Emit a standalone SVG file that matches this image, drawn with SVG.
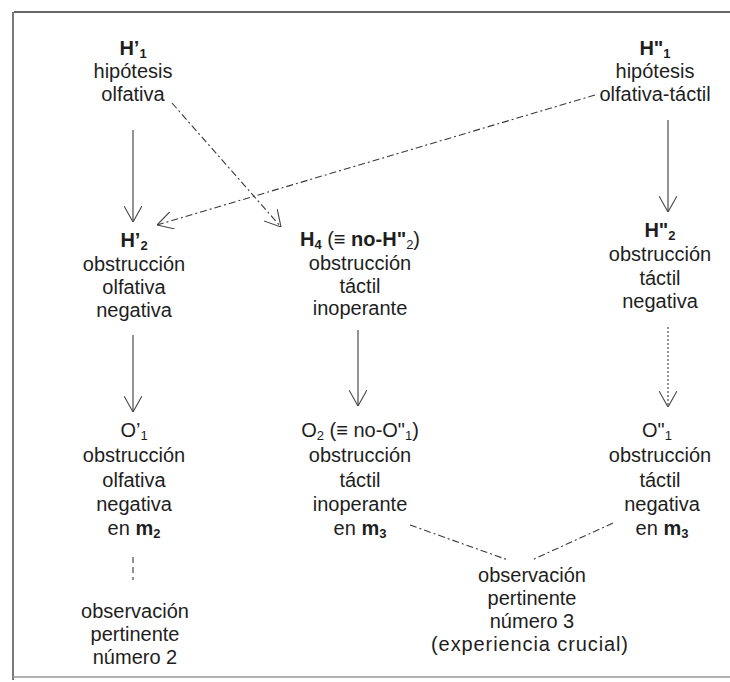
<svg xmlns="http://www.w3.org/2000/svg" width="730" height="682" viewBox="0 0 730 682">
<defs>
<style>
.t{font-family:"Liberation Sans",Arial,sans-serif;font-size:20px;fill:#1e1e1e;text-anchor:middle}
.b{font-weight:bold}
.s{font-size:13px}
.frame{stroke:#333;stroke-width:1.3;fill:none}
.c{stroke:#3a3a3a;stroke-width:1.1;fill:none}
.dash{stroke-dasharray:7 3 2 3}
.dot{stroke-dasharray:2 2}
.ln{stroke-dasharray:6 4}
</style>
<marker id="arr" viewBox="0 0 16 18" refX="16" refY="9" markerWidth="16" markerHeight="18" markerUnits="userSpaceOnUse" orient="auto">
<path d="M0,0 L16,9 L0,18" fill="none" stroke="#444" stroke-width="1.1"/>
</marker>
</defs>
<rect width="730" height="682" fill="#ffffff"/>
<g id="frame">
<path class="frame" d="M730,12 H14 M13,12 V680"/>
<path d="M13,677 H730" stroke="#999" stroke-width="1.3" fill="none"/>
</g>
<g id="connectors">
<path class="c" d="M133,130 V222" marker-end="url(#arr)"/>
<path class="c dash" d="M172,103 L281,227" marker-end="url(#arr)"/>
<path class="c dash" d="M595,95 L157,225" marker-end="url(#arr)"/>
<path class="c" d="M668,120 V212" marker-end="url(#arr)"/>
<path class="c" d="M133,335 V412" marker-end="url(#arr)"/>
<path class="c" d="M358,330 V406" marker-end="url(#arr)"/>
<path class="c dot" d="M668,327 V407" marker-end="url(#arr)"/>
<path class="c ln" d="M133,557 V580"/>
<path class="c dash" d="M410,525 L508,560"/>
<path class="c dash" d="M613,523 L532,560"/>
</g>
<g id="H1p">
<text class="t" x="133" y="55"><tspan class="b">H’</tspan><tspan class="b s" dy="3">1</tspan></text>
<text class="t" x="133" y="78">hipótesis</text>
<text class="t" x="133" y="101">olfativa</text>
</g>
<g id="H1pp">
<text class="t" x="655" y="55"><tspan class="b">H"</tspan><tspan class="b s" dy="3">1</tspan></text>
<text class="t" x="655" y="78">hipótesis</text>
<text class="t" x="655" y="101">olfativa-táctil</text>
</g>
<g id="H2p">
<text class="t" x="134" y="247"><tspan class="b">H’</tspan><tspan class="b s" dy="3">2</tspan></text>
<text class="t" x="134" y="271">obstrucción</text>
<text class="t" x="134" y="294">olfativa</text>
<text class="t" x="134" y="317">negativa</text>
</g>
<g id="H4">
<text class="t" x="360" y="246"><tspan class="b">H</tspan><tspan class="b s" dy="3">4</tspan><tspan dy="-3"> (≡ </tspan><tspan class="b">no-H"</tspan><tspan class="s" dy="3">2</tspan><tspan dy="-3">)</tspan></text>
<text class="t" x="360" y="270">obstrucción</text>
<text class="t" x="360" y="293">táctil</text>
<text class="t" x="360" y="315">inoperante</text>
</g>
<g id="H2pp">
<text class="t" x="660" y="237"><tspan class="b">H"</tspan><tspan class="b s" dy="3">2</tspan></text>
<text class="t" x="660" y="261">obstrucción</text>
<text class="t" x="660" y="285">táctil</text>
<text class="t" x="660" y="308">negativa</text>
</g>
<g id="O1p">
<text class="t" x="134" y="437">O’<tspan class="s" dy="3">1</tspan></text>
<text class="t" x="134" y="462">obstrucción</text>
<text class="t" x="134" y="487">olfativa</text>
<text class="t" x="134" y="511">negativa</text>
<text class="t" x="134" y="535">en <tspan class="b">m</tspan><tspan class="b s" dy="3">2</tspan></text>
</g>
<g id="O2">
<text class="t" x="360" y="437">O<tspan class="s" dy="3">2</tspan><tspan dy="-3"> (≡ no-O"</tspan><tspan class="s" dy="3">1</tspan><tspan dy="-3">)</tspan></text>
<text class="t" x="360" y="462">obstrucción</text>
<text class="t" x="360" y="487">táctil</text>
<text class="t" x="360" y="511">inoperante</text>
<text class="t" x="360" y="535">en <tspan class="b">m</tspan><tspan class="b s" dy="3">3</tspan></text>
</g>
<g id="O1pp">
<text class="t" x="657" y="437">O"<tspan class="s" dy="3">1</tspan></text>
<text class="t" x="660" y="462">obstrucción</text>
<text class="t" x="660" y="487">táctil</text>
<text class="t" x="662" y="511">negativa</text>
<text class="t" x="662" y="535">en <tspan class="b">m</tspan><tspan class="b s" dy="3">3</tspan></text>
</g>
<g id="obs2">
<text class="t" x="135" y="618">observación</text>
<text class="t" x="135" y="641">pertinente</text>
<text class="t" x="135" y="664">número 2</text>
</g>
<g id="obs3">
<text class="t" x="532" y="582">observación</text>
<text class="t" x="532" y="605">pertinente</text>
<text class="t" x="532" y="628">número 3</text>
<text class="t" x="530" y="651" letter-spacing="0.9">(experiencia crucial)</text>
</g>
</svg>
